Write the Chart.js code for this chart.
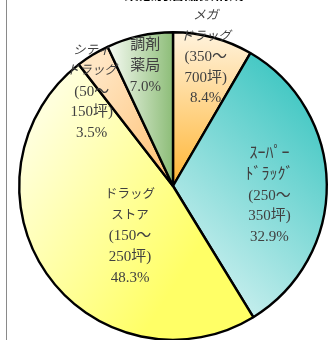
<!DOCTYPE html>
<html>
<head>
<meta charset="utf-8">
<script src="https://cdn.jsdelivr.net/npm/chart.js@4/dist/chart.umd.min.js"></script>
<style>
    html, body { margin: 0; padding: 0; background: #fff; }
    #wrap { position: relative; width: 328px; height: 340px; overflow: hidden; }
    #shareChart { position: absolute; left: 0; top: 0; }
</style>
</head>
<body>
<div id="wrap"><canvas id="shareChart" width="340" height="360"></canvas></div>
<script>
// ===== DATA =====
const titleText = '業態別店舗数構成';
const categories = ['メガドラッグ(350～700坪)', 'スーパードラッグ(250～350坪)', 'ドラッグストア(150～250坪)', 'シティドラッグ(50～150坪)', '調剤薬局'];
const shares = [8.4, 32.9, 48.3, 3.5, 7.0];
const labelLines = [
    ['メガ', 'ドラッグ', '(350～', '700坪)'],
    ['ｽｰﾊﾟｰ', 'ﾄﾞﾗｯｸﾞ', '(250～', '350坪)'],
    ['ドラッグ', 'ストア', '(150～', '250坪)'],
    ['シティ', 'ドラッグ', '(50～', '150坪)'],
    ['調剤', '薬局']
];

// gradient per slice: [x0, y0, x1, y1] as fraction of chart area, then colours
const sliceFills = [
    { dir: [0.5, 0.0, 0.5, 0.5], from: '#fff3de', to: '#ffb534' },
    { dir: [0.45, 0.9, 1.0, 0.3], from: '#e8f8f8', to: '#48c9c5' },
    { dir: [0.0, 0.4, 0.55, 0.75], from: '#ffffdc', to: '#ffff66' },
    { dir: [0.2, 0.2, 0.5, 0.4], from: '#ffe6c4', to: '#ffc47a' },
    { dir: [0.3, 0.1, 0.5, 0.1], from: '#f2f8ee', to: '#8dbd78' }
];

// label anchor: [fraction of radius, angle shift in degrees]
const labelSpots = [[0.865, -0.9], [0.63, 6.3], [0.43, -14.9], [0.81, -9.3], [0.8, -0.4]];
// slanted kana on the two squeezed labels
const slanted = [true, false, false, true, false];

// ===== PLUGINS =====
const frameLine = {
    id: 'frameLine',
    beforeDraw(chart) {
        const c = chart.ctx;
        c.save();
        c.strokeStyle = '#8a8a8a';
        c.lineWidth = 1;
        c.beginPath();
        c.moveTo(6.5, 0);
        c.lineTo(6.5, 360);
        c.stroke();
        // title, mostly cut off above the window
        c.fillStyle = '#000';
        c.font = 'bold 15px "Noto Sans CJK JP"';
        c.textAlign = 'center';
        c.textBaseline = 'alphabetic';
        c.fillText(titleText, 184, -1);
        c.restore();
    }
};

const sliceLabels = {
    id: 'sliceLabels',
    afterDatasetsDraw(chart) {
        const c = chart.ctx;
        const arcs = chart.getDatasetMeta(0).data;
        c.save();
        c.fillStyle = '#404040';
        c.textAlign = 'center';
        c.textBaseline = 'middle';
        arcs.forEach((arc, i) => {
            const p = arc.getProps(['x', 'y', 'startAngle', 'endAngle', 'outerRadius'], true);
            const spot = labelSpots[i];
            const ang = (p.startAngle + p.endAngle) / 2 + spot[1] * Math.PI / 180;
            const r = p.outerRadius * spot[0];
            const cx = p.x + Math.cos(ang) * r;
            const cy = p.y + Math.sin(ang) * r;
            const lines = labelLines[i].concat([shares[i].toFixed(1) + '%']);
            const lh = 20.7;
            const top = cy - (lines.length - 1) * lh / 2;
            lines.forEach((t, k) => {
                let font = '15px ';
                if (/[\uFF65-\uFF9F]/.test(t)) font = '16px ';
                else if (/[\u30A0-\u30FF]/.test(t)) font = (slanted[i] ? 'italic 12.5px ' : '12.5px ');
                c.font = font + '"Liberation Serif", "Noto Sans CJK JP"';
                c.fillText(t, cx, top + k * lh);
            });
        });
        c.restore();
    }
};

// ===== CHART =====
document.addEventListener('DOMContentLoaded', function() {
    const ctx = document.getElementById('shareChart');

    new Chart(ctx, {
        type: 'pie',
        data: {
            labels: categories,
            datasets: [{
                data: shares,
                backgroundColor: function(context) {
                    const area = context.chart.chartArea;
                    if (!area) return '#ccc';
                    const f = sliceFills[context.dataIndex];
                    const w = area.right - area.left, h = area.bottom - area.top;
                    const g = context.chart.ctx.createLinearGradient(
                        area.left + f.dir[0] * w, area.top + f.dir[1] * h,
                        area.left + f.dir[2] * w, area.top + f.dir[3] * h);
                    g.addColorStop(0, f.from);
                    g.addColorStop(1, f.to);
                    return g;
                },
                borderColor: '#000',
                borderWidth: 2.4
            }]
        },
        options: {
            responsive: false,
            devicePixelRatio: 1,
            animation: false,
            layout: {
                padding: { left: 18, right: 12, top: 31, bottom: 19 }
            },
            plugins: {
                legend: { display: false },
                tooltip: { enabled: false },
                title: { display: false }
            }
        },
        plugins: [frameLine, sliceLabels]
    });
});
</script>
</body>
</html>
